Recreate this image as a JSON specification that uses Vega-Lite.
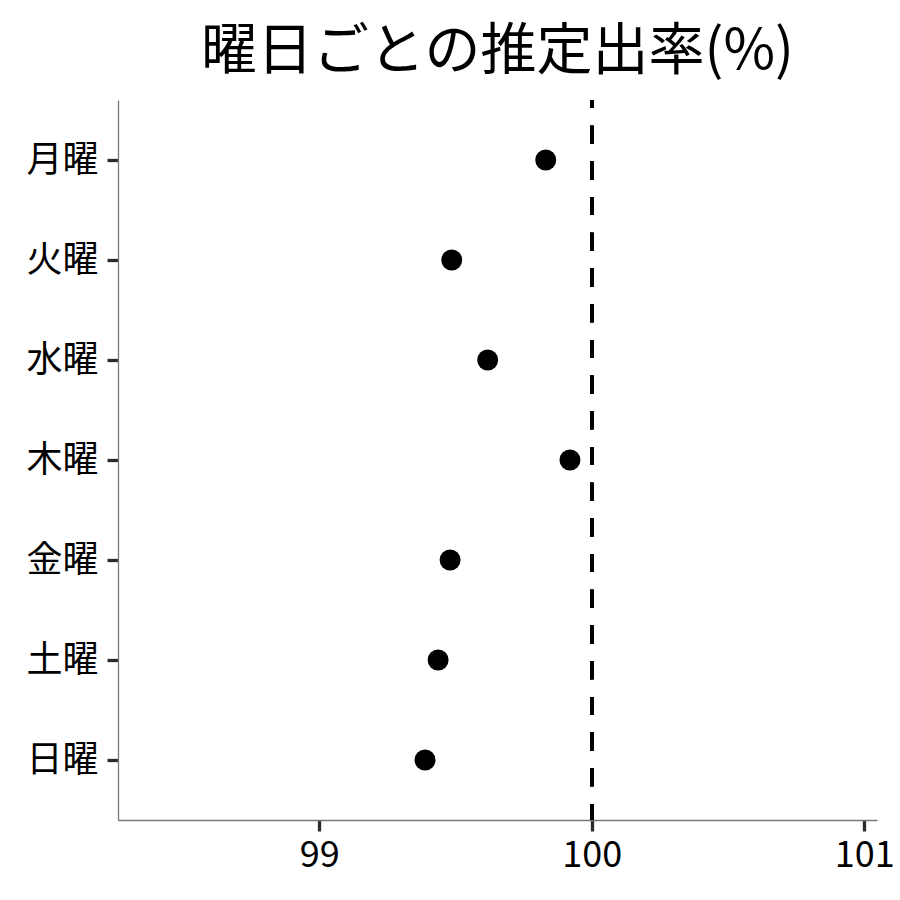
{
  "$schema": "https://vega.github.io/schema/vega-lite/v6.json",
  "width": 759,
  "height": 720,
  "autosize": {"type": "none"},
  "padding": {"left": 118, "top": 100, "right": 23, "bottom": 80},
  "background": "white",
  "config": {
    "view": {"stroke": null},
    "font": "Noto Sans CJK JP"
  },
  "title": {
    "text": "曜日ごとの推定出率(%)",
    "fontSize": 56,
    "fontWeight": "normal",
    "color": "black",
    "font": "Noto Sans CJK JP",
    "anchor": "middle",
    "frame": "group",
    "offset": 17
  },
  "data": {
    "values": [
      {"day": "月曜", "rate": 99.831},
      {"day": "火曜", "rate": 99.486},
      {"day": "水曜", "rate": 99.618},
      {"day": "木曜", "rate": 99.920},
      {"day": "金曜", "rate": 99.480},
      {"day": "土曜", "rate": 99.436},
      {"day": "日曜", "rate": 99.388}
    ]
  },
  "layer": [
    {
      "mark": {"type": "rule", "color": "black", "strokeWidth": 3.5, "strokeDash": [18, 17.7], "strokeDashOffset": 10, "strokeCap": "butt"},
      "encoding": {"x": {"datum": 100}}
    },
    {
      "mark": {"type": "circle", "size": 440, "color": "black", "opacity": 1},
      "encoding": {
        "x": {
          "field": "rate",
          "type": "quantitative",
          "scale": {"domain": [98.261, 101.047], "nice": false, "zero": false},
          "axis": {
            "title": null,
            "values": [99, 100, 101],
            "format": "d",
            "grid": false,
            "domainColor": "#777777",
            "domainWidth": 1.3,
            "tickColor": "#2b2b2b",
            "tickWidth": 3.3,
            "tickSize": 11,
            "labelFontSize": 36,
            "labelColor": "black",
            "labelPadding": 7,
            "labelFont": "Noto Sans CJK JP"
          }
        },
        "y": {
          "field": "day",
          "type": "nominal",
          "sort": ["月曜", "火曜", "水曜", "木曜", "金曜", "土曜", "日曜"],
          "scale": {"type": "point", "padding": 0.6},
          "axis": {
            "title": null,
            "grid": false,
            "domainColor": "#777777",
            "domainWidth": 1.3,
            "tickColor": "#2b2b2b",
            "tickWidth": 3.3,
            "tickSize": 11,
            "labelFontSize": 36,
            "labelColor": "black",
            "labelPadding": 9,
            "labelFont": "Noto Sans CJK JP"
          }
        }
      }
    }
  ]
}
